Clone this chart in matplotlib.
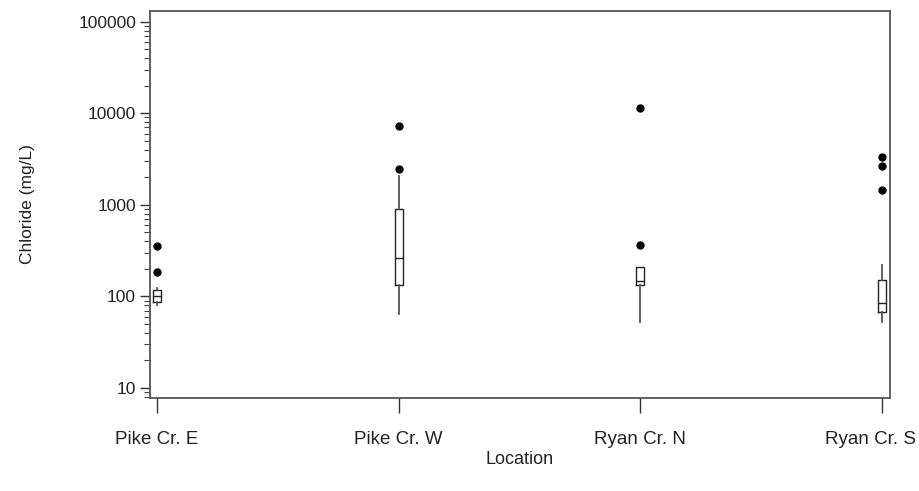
import matplotlib
matplotlib.use("Agg")
import matplotlib.pyplot as plt
from matplotlib.ticker import LogLocator, NullFormatter, FixedLocator, FixedFormatter
from matplotlib.transforms import ScaledTranslation
import numpy as np

plt.rcParams['font.family'] = ['Liberation Sans', 'DejaVu Sans']

locations = ["Pike Cr. E", "Pike Cr. W", "Ryan Cr. N", "Ryan Cr. S"]
whisker_low = [80, 65, 52, 52]
q1 = [86, 135, 132, 67]
median = [102, 260, 146, 85]
q3 = [119, 912, 209, 153]
whisker_high = [125, 2090, 209, 218]
outliers = [[187, 352], [2490, 7180], [360, 11560], [1460, 2640, 3320]]

ytick_values = [10, 100, 1000, 10000, 100000]
ytick_labels = ["10", "100", "1000", "10000", "100000"]

stats = []
for i in range(len(locations)):
    stats.append(dict(med=median[i], q1=q1[i], q3=q3[i],
                      whislo=whisker_low[i], whishi=whisker_high[i],
                      fliers=outliers[i], label=locations[i]))

fig = plt.figure(figsize=(9.19, 4.91), dpi=100)
ax = fig.add_axes([150/919, 1-398/491, (890-150)/919, (398-11)/491])

positions = np.arange(len(locations))
ax.bxp(stats, positions=positions, widths=0.034, showcaps=False,
       boxprops=dict(color='#222222', linewidth=1.0),
       medianprops=dict(color='#222222', linewidth=1.0),
       whiskerprops=dict(color='#555555', linewidth=1.3),
       flierprops=dict(marker='o', markerfacecolor='black', markeredgecolor='black',
                       markersize=5, linestyle='none'))

ax.set_yscale('log')
ax.set_ylim(7.78, 130900)
ax.set_xlim(-0.029, 3.033)

ax.yaxis.set_major_locator(FixedLocator(ytick_values))
ax.yaxis.set_major_formatter(FixedFormatter(ytick_labels))
ax.yaxis.set_minor_locator(LogLocator(base=10, subs=np.arange(2, 10)))
ax.yaxis.set_minor_formatter(NullFormatter())

ax.set_xticks(positions)
ax.set_xticklabels(locations)

ax.tick_params(axis='y', which='major', length=7, width=1, color='#333333',
               labelsize=12.5, labelcolor='#222222', pad=3)
ax.tick_params(axis='y', which='minor', length=4, width=0.8, color='#444444')
ax.tick_params(axis='x', which='major', length=11, width=1, color='#333333',
               labelsize=13.5, labelcolor='#222222', pad=13)

# last label is pushed left so it stays inside the figure
last = ax.get_xticklabels()[-1]
last.set_horizontalalignment('right')
last.set_transform(last.get_transform() + ScaledTranslation(34/100, 0, fig.dpi_scale_trans))

for s in ax.spines.values():
    s.set_color('#555555')
    s.set_linewidth(1.3)

ax.set_ylabel("Chloride (mg/L)", fontsize=12.5, color='#222222', labelpad=31)
ax.set_xlabel("Location", fontsize=13, color='#222222', labelpad=2)

fig.savefig("out.png", dpi=100)
